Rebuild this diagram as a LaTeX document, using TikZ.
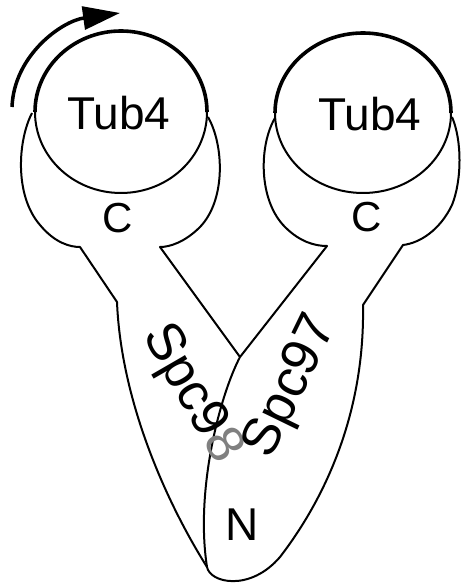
\documentclass[tikz,border=0pt]{standalone}
\usepackage{fontspec}
\setmainfont{Liberation Sans}
\usetikzlibrary{arrows.meta}
\definecolor{markgray}{RGB}{128,128,128}
\begin{document}
\begin{tikzpicture}[x=1pt,y=-1pt,
  outline/.style={line width=2pt, line join=round},
  rim/.style={line width=3.6pt},
  bigtext/.style={font=\fontsize{46}{46}\selectfont, inner sep=0pt},
  armtext/.style={font=\fontsize{53}{53}\selectfont, inner sep=0pt},
  ctext/.style={font=\fontsize{42}{42}\selectfont, inner sep=0pt}]
\useasboundingbox (0,0) rectangle (463,585);

% left lobe (Spc98 C-terminus) and its arm
\draw[outline] (32,113) .. controls (18,140) and (14,195) .. (40,225)
  .. controls (55,243) and (70,247) .. (80,247) -- (117,302)
  .. controls (121,400) and (165,500) .. (207,567);
\draw[outline] (208,117) .. controls (224,145) and (226,200) .. (200,227)
  .. controls (185,242) and (170,247) .. (160,247) -- (240,357);

% right lobe (Spc97 C-terminus) and its body
\draw[outline] (275,118) .. controls (259,145) and (258,200) .. (285,227)
  .. controls (300,242) and (315,246) .. (327,246) -- (240,357)
  .. controls (220,395) and (195,490) .. (207,567)
  .. controls (210,583) and (250,592) .. (280,557)
  .. controls (320,505) and (365,420) .. (363,305)
  -- (403,245)
  .. controls (420,243) and (440,230) .. (452,205)
  .. controls (462,180) and (462,140) .. (452,117);

% Tub4 circles
\draw[outline] (121,112) ellipse[x radius=86pt, y radius=81pt];
\draw[rim] (35,112) arc[start angle=180, end angle=0, x radius=86pt, y radius=81pt];
\draw[outline] (363,113) ellipse[x radius=88pt, y radius=80pt];
\draw[rim] (275,113) arc[start angle=180, end angle=0, x radius=88pt, y radius=80pt];

% rotation arrow
\coordinate (arrowstart) at (12,107);
\coordinate (arrowtip) at (120,13);
\draw[line width=3.5pt, -{Triangle[length=37pt,width=23pt]}]
  (arrowstart) .. controls (14,55) and (62,21) .. (arrowtip);

% labels
\node[bigtext] (tubL) at (119,113) {Tub4};
\node[bigtext] (tubR) at (370,114) {Tub4};
\node[ctext] (cL) at (118,218) {C};
\node[ctext] (cR) at (367,217) {C};
\node[armtext, rotate=-60] (spc98) at (191,394) {Spc9\textcolor{markgray}{8}};
\node[armtext, rotate=64] (spc97) at (292,387) {Spc97};
\node[bigtext] (nterm) at (242,525) {N};
\end{tikzpicture}
\end{document}
